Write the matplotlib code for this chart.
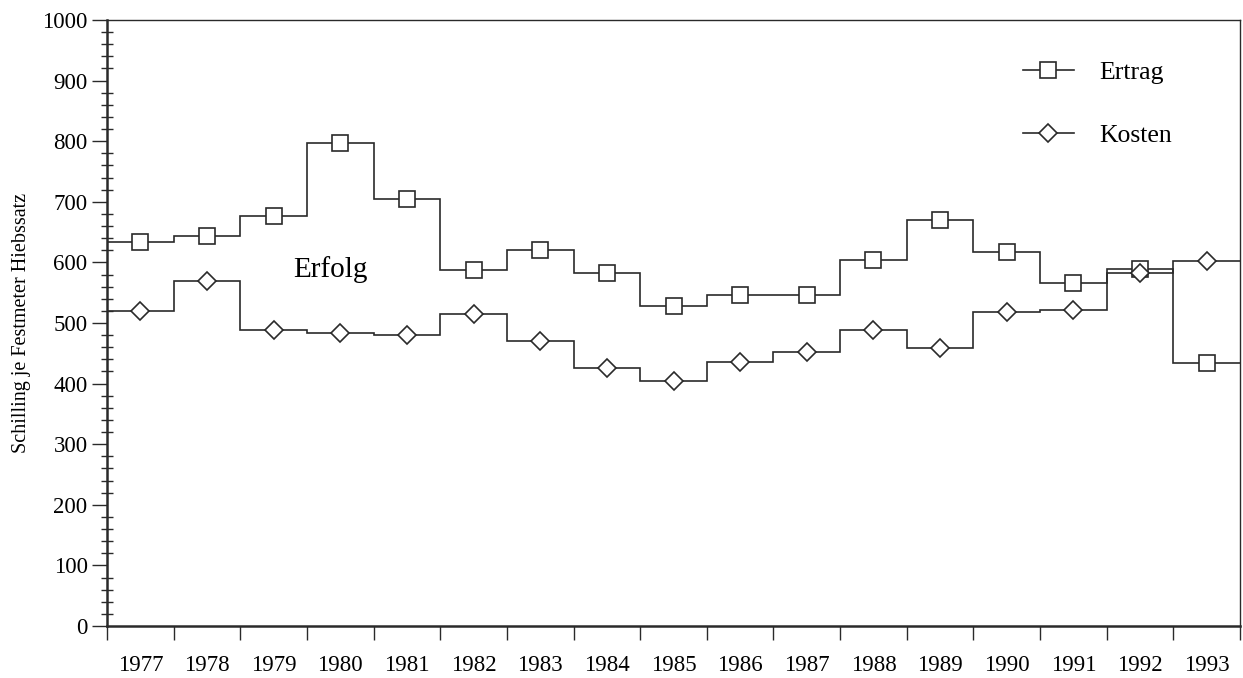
import numpy as np
import matplotlib.pyplot as plt
from matplotlib.lines import Line2D
from matplotlib.ticker import MultipleLocator, FixedLocator, NullFormatter, FixedFormatter

plt.rcParams['font.family'] = ['Liberation Serif', 'DejaVu Serif']

# Daten (Schilling je Festmeter Hiebssatz)
jahre = [1977, 1978, 1979, 1980, 1981, 1982, 1983, 1984, 1985,
         1986, 1987, 1988, 1989, 1990, 1991, 1992, 1993]
ertrag = [633, 644, 677, 797, 705, 587, 620, 583, 528,
          546, 546, 604, 670, 617, 566, 589, 434]
kosten = [520, 569, 489, 483, 480, 515, 470, 426, 405,
          436, 452, 488, 458, 518, 521, 582, 602]

n = len(jahre)
kanten = np.arange(n + 1)
mitte = np.arange(n) + 0.5

fig = plt.figure(figsize=(12.43, 6.78), dpi=100)
ax = fig.add_axes([0.0861, 0.0767, 0.9115, 0.8938])

farbe = '#2a2a2a'
ax.stairs(ertrag, kanten, baseline=None, color=farbe, lw=1.2)
ax.stairs(kosten, kanten, baseline=None, color=farbe, lw=1.2)
ax.plot(mitte, ertrag, ls='none', marker='s', ms=11, mfc='white', mec=farbe, mew=1.2)
ax.plot(mitte, kosten, ls='none', marker='D', ms=9, mfc='white', mec=farbe, mew=1.2)

ax.set_xlim(0, n)
ax.set_ylim(0, 1000)

# x-Achse: Striche an den Grenzen, Jahreszahlen in der Mitte
ax.xaxis.set_major_locator(FixedLocator(kanten))
ax.xaxis.set_major_formatter(NullFormatter())
ax.xaxis.set_minor_locator(FixedLocator(mitte))
ax.xaxis.set_minor_formatter(FixedFormatter([str(j) for j in jahre]))
ax.tick_params(axis='x', which='major', direction='out', length=10, width=1, color=farbe)
ax.tick_params(axis='x', which='minor', length=0, pad=21, labelsize=16.5)

ax.yaxis.set_major_locator(MultipleLocator(100))
ax.yaxis.set_minor_locator(MultipleLocator(20))
ax.tick_params(axis='y', which='major', direction='out', length=11, width=1, pad=3, labelsize=16.5, color=farbe)
ax.tick_params(axis='y', which='minor', direction='inout', length=8, width=1, color=farbe)

for s in ax.spines.values():
    s.set_color(farbe)
    s.set_linewidth(1.0)
ax.spines['left'].set_linewidth(1.8)
ax.spines['bottom'].set_linewidth(1.8)

ax.set_ylabel('Schilling je Festmeter Hiebssatz', fontsize=14.5, labelpad=8)

ax.text(3.35, 588, 'Erfolg', fontsize=21, ha='center', va='center')

griffe = [
    Line2D([], [], color=farbe, lw=1.2, marker='s', ms=11, mfc='white', mec=farbe, mew=1.2),
    Line2D([], [], color=farbe, lw=1.2, marker='D', ms=9, mfc='white', mec=farbe, mew=1.2),
]
ax.legend(griffe, ['Ertrag', 'Kosten'], loc='upper left', bbox_to_anchor=(0.8035, 0.94),
          frameon=False, fontsize=18.5, handlelength=2.0, handletextpad=1.0,
          labelspacing=1.55, numpoints=1, borderpad=0.2, borderaxespad=0)

fig.savefig('out.png', dpi=100)
